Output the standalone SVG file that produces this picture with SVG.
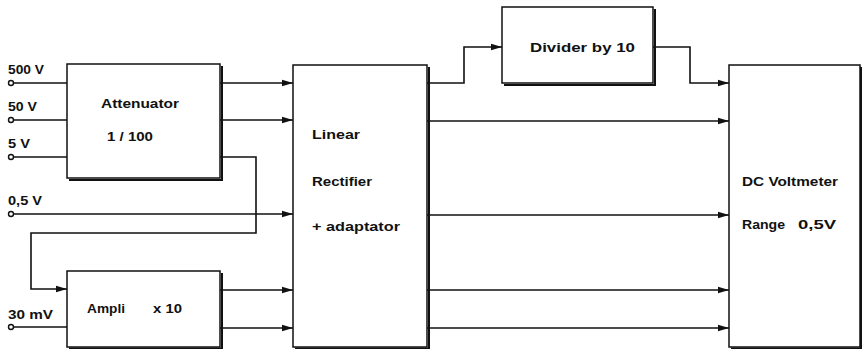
<svg xmlns="http://www.w3.org/2000/svg" width="862" height="349" viewBox="0 0 862 349">
<style>
.box{fill:#fff;stroke:#111;stroke-width:1.5}
.sh{fill:none;stroke:#111;stroke-width:2}
.ln{fill:none;stroke:#111;stroke-width:1.6}
.ar{marker-end:url(#ah)}
.term{fill:#fff;stroke:#111;stroke-width:1.4}
text{font-family:"Liberation Sans","DejaVu Sans",sans-serif;font-weight:bold;font-size:13px;fill:#111}
</style>
<defs>
<marker id="ah" markerUnits="userSpaceOnUse" markerWidth="12" markerHeight="8" refX="11" refY="4" orient="auto">
<path d="M0,0.8 L11,4 L0,7.2 Z" fill="#111"/>
</marker>
</defs>
<g id="connectors">
<line class="ln" x1="13.5" y1="83" x2="67" y2="83"/>
<line class="ln" x1="13.5" y1="120" x2="67" y2="120"/>
<line class="ln" x1="13.5" y1="157" x2="67" y2="157"/>
<line class="ln ar" x1="220" y1="83" x2="293" y2="83"/>
<line class="ln ar" x1="220" y1="120" x2="293" y2="120"/>
<path class="ln ar" d="M220,157 H256 V233 H31 V289 H67"/>
<line class="ln ar" x1="13.5" y1="214" x2="293" y2="214"/>
<line class="ln" x1="13.5" y1="327" x2="67" y2="327"/>
<line class="ln ar" x1="220" y1="290" x2="293" y2="290"/>
<line class="ln ar" x1="220" y1="328" x2="293" y2="328"/>
<path class="ln ar" d="M427,83 H464 V47 H502"/>
<path class="ln ar" d="M653,47 H690 V83 H729"/>
<line class="ln ar" x1="427" y1="121" x2="729" y2="121"/>
<line class="ln ar" x1="427" y1="215" x2="729" y2="215"/>
<line class="ln ar" x1="427" y1="290" x2="729" y2="290"/>
<line class="ln ar" x1="427" y1="328" x2="729" y2="328"/>
<circle class="term" cx="11" cy="83" r="2.5"/>
<circle class="term" cx="11" cy="120" r="2.5"/>
<circle class="term" cx="11" cy="157" r="2.5"/>
<circle class="term" cx="11" cy="214" r="2.5"/>
<circle class="term" cx="11" cy="327" r="2.5"/>
</g>
<g id="inputs">
<text x="8" y="74" textLength="36" lengthAdjust="spacingAndGlyphs">500 V</text>
<text x="8" y="111" textLength="29" lengthAdjust="spacingAndGlyphs">50 V</text>
<text x="8" y="148" textLength="22" lengthAdjust="spacingAndGlyphs">5 V</text>
<text x="8" y="205" textLength="34" lengthAdjust="spacingAndGlyphs">0,5 V</text>
<text x="8" y="319" textLength="45" lengthAdjust="spacingAndGlyphs">30 mV</text>
</g>
<g id="attenuator">
<rect class="box" x="67" y="64" width="153" height="114"/>
<path class="sh" d="M222,66 V180 H69"/>
<text x="101" y="108" textLength="78" lengthAdjust="spacingAndGlyphs">Attenuator</text>
<text x="107" y="141" textLength="46" lengthAdjust="spacingAndGlyphs">1 / 100</text>
</g>
<g id="ampli">
<rect class="box" x="67" y="271" width="153" height="76"/>
<path class="sh" d="M222,273 V348.5 H69"/>
<text x="87" y="313" textLength="38" lengthAdjust="spacingAndGlyphs">Ampli</text>
<text x="153" y="313" textLength="29" lengthAdjust="spacingAndGlyphs">x 10</text>
</g>
<g id="rectifier">
<rect class="box" x="293" y="65" width="134" height="282"/>
<path class="sh" d="M429,67 V348.5 H295"/>
<text x="312" y="139" textLength="48" lengthAdjust="spacingAndGlyphs">Linear</text>
<text x="312" y="186" textLength="60" lengthAdjust="spacingAndGlyphs">Rectifier</text>
<text x="312" y="231" textLength="88" lengthAdjust="spacingAndGlyphs">+ adaptator</text>
</g>
<g id="divider">
<rect class="box" x="502" y="7" width="151" height="76"/>
<path class="sh" d="M655,9 V85 H504"/>
<text x="530" y="52" textLength="105" lengthAdjust="spacingAndGlyphs">Divider by 10</text>
</g>
<g id="voltmeter">
<rect class="box" x="729" y="65" width="131" height="282"/>
<path class="sh" d="M861,67 V348.5 H731"/>
<text x="742" y="186" textLength="96" lengthAdjust="spacingAndGlyphs">DC Voltmeter</text>
<text x="742" y="229" textLength="43" lengthAdjust="spacingAndGlyphs">Range</text>
<text x="798" y="229" textLength="38" lengthAdjust="spacingAndGlyphs">0,5V</text>
</g>
</svg>
